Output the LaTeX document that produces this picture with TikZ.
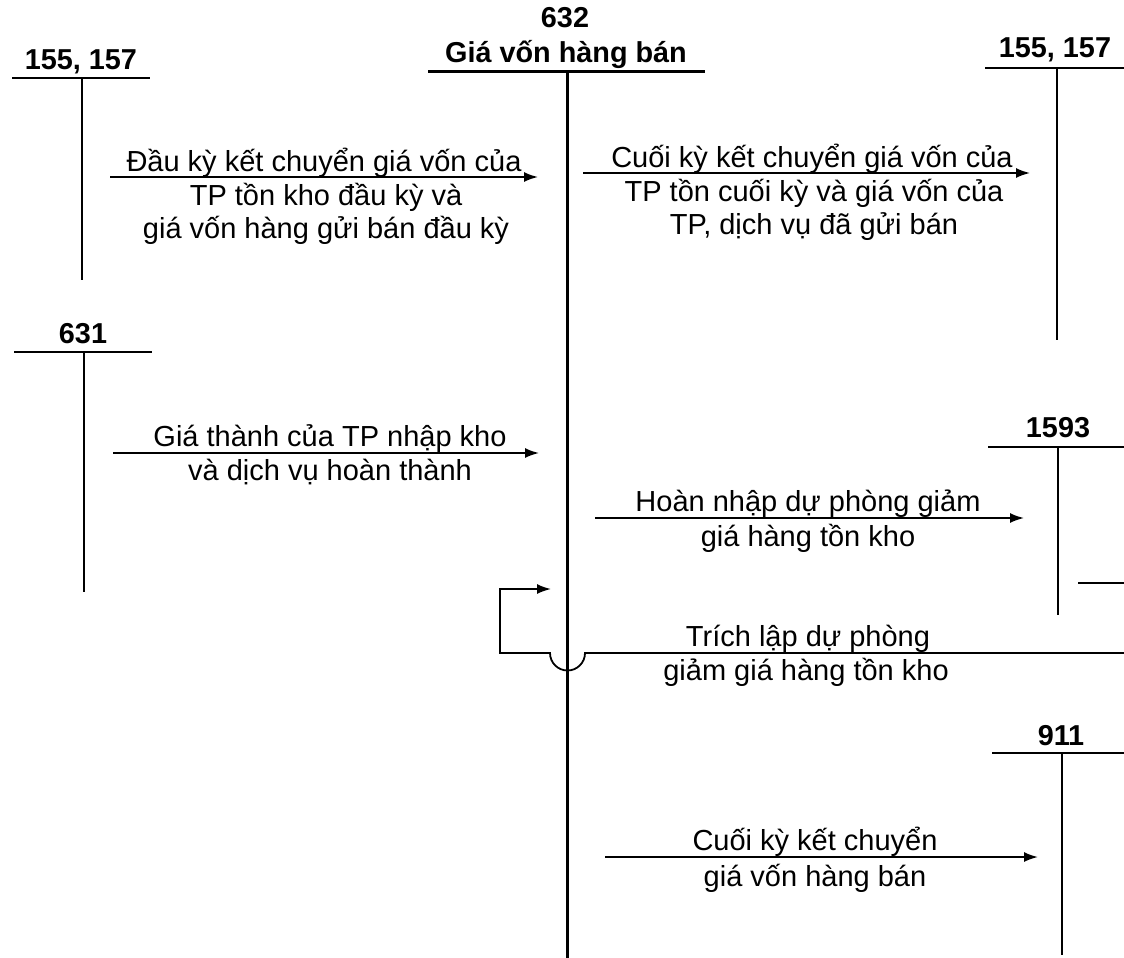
\documentclass[tikz,border=0pt]{standalone}
\usepackage{fontspec}
\setmainfont{Liberation Sans}
\usetikzlibrary{arrows.meta}
\tikzset{
  acct/.style={line width=2pt},
  mainacct/.style={line width=3pt},
  flow/.style={line width=1.8pt,-{Latex[length=14pt,width=10pt]}},
  lbl/.style={anchor=base,inner sep=0pt,font=\fontsize{29}{33}\selectfont},
  num/.style={anchor=base,inner sep=0pt,font=\fontsize{28.8}{33}\selectfont\bfseries},
}
\begin{document}
\begin{tikzpicture}[x=1pt,y=-1pt]
\useasboundingbox (0,0) rectangle (1124,958);
% 632 main account
\node[num] (n632) at (565,28) {632};
\node[num] (t632) at (566,63) {Giá vốn hàng bán};
\coordinate (a632l) at (428,72); \coordinate (a632r) at (705,72);
\coordinate (a632t) at (567,72); \coordinate (a632b) at (567,958);
\draw[mainacct] (a632l) -- (a632r);
\draw[mainacct] (a632t) -- (a632b);
% left 155,157
\node[num] (nL155) at (81,70) {155, 157};
\coordinate (L155l) at (12,78); \coordinate (L155r) at (150,78);
\coordinate (L155t) at (82,78); \coordinate (L155b) at (82,280);
\draw[acct] (L155l) -- (L155r);
\draw[acct] (L155t) -- (L155b);
% right 155,157
\node[num] (nR155) at (1055,58) {155, 157};
\coordinate (R155l) at (985,68); \coordinate (R155r) at (1124,68);
\coordinate (R155t) at (1057,68); \coordinate (R155b) at (1057,340);
\draw[acct] (R155l) -- (R155r);
\draw[acct] (R155t) -- (R155b);
% 631
\node[num] (n631) at (83,343) {631};
\coordinate (a631l) at (14,352); \coordinate (a631r) at (152,352);
\coordinate (a631t) at (84,352); \coordinate (a631b) at (84,592);
\draw[acct] (a631l) -- (a631r);
\draw[acct] (a631t) -- (a631b);
% 1593
\node[num] (n1593) at (1058,437) {1593};
\coordinate (a1593l) at (988,447); \coordinate (a1593r) at (1124,447);
\coordinate (a1593t) at (1058,447); \coordinate (a1593b) at (1058,615);
\coordinate (a1593sl) at (1078,583); \coordinate (a1593sr) at (1124,583);
\draw[acct] (a1593l) -- (a1593r);
\draw[acct] (a1593t) -- (a1593b);
\draw[acct] (a1593sl) -- (a1593sr);
% 911
\node[num] (n911) at (1061,745) {911};
\coordinate (a911l) at (992,753); \coordinate (a911r) at (1124,753);
\coordinate (a911t) at (1062,753); \coordinate (a911b) at (1062,955);
\draw[acct] (a911l) -- (a911r);
\draw[acct] (a911t) -- (a911b);

% arrow 1
\coordinate (f1s) at (110,177); \coordinate (f1e) at (538,177);
\draw[flow] (f1s) -- (f1e);
\node[lbl] (f1a) at (324,171) {Đầu kỳ kết chuyển giá vốn của};
\node[lbl] (f1b) at (326,205) {TP tồn kho đầu kỳ và};
\node[lbl] (f1c) at (326,238) {giá vốn hàng gửi bán đầu kỳ};
% arrow 2
\coordinate (f2s) at (583,173); \coordinate (f2e) at (1030,173);
\draw[flow] (f2s) -- (f2e);
\node[lbl] (f2a) at (812,167) {Cuối kỳ kết chuyển giá vốn của};
\node[lbl] (f2b) at (814,201) {TP tồn cuối kỳ và giá vốn của};
\node[lbl] (f2c) at (814,234) {TP, dịch vụ đã gửi bán};
% arrow 3
\coordinate (f3s) at (113,453); \coordinate (f3e) at (539,453);
\draw[flow] (f3s) -- (f3e);
\node[lbl] (f3a) at (330,446) {Giá thành của TP nhập kho};
\node[lbl] (f3b) at (330,480) {và dịch vụ hoàn thành};
% arrow 4
\coordinate (f4s) at (595,518); \coordinate (f4e) at (1024,518);
\draw[flow] (f4s) -- (f4e);
\node[lbl] (f4a) at (808,511) {Hoàn nhập dự phòng giảm};
\node[lbl] (f4b) at (808,546) {giá hàng tồn kho};
% loop (Trich lap du phong)
\coordinate (f5s) at (1124,653); \coordinate (f5j) at (585,653);
\coordinate (f5c) at (500,653); \coordinate (f5u) at (500,589);
\coordinate (f5e) at (551,589);
\draw[flow] (f5s) -- (f5j) arc[start angle=0,end angle=180,radius=17.5] -- (f5c) -- (f5u) -- (f5e);
\node[lbl] (f5a) at (808,646) {Trích lập dự phòng};
\node[lbl] (f5b) at (806,680) {giảm giá hàng tồn kho};
% arrow 6
\coordinate (f6s) at (605,857); \coordinate (f6e) at (1038,857);
\draw[flow] (f6s) -- (f6e);
\node[lbl] (f6a) at (815,850) {Cuối kỳ kết chuyển};
\node[lbl] (f6b) at (815,886) {giá vốn hàng bán};
\end{tikzpicture}
\end{document}
